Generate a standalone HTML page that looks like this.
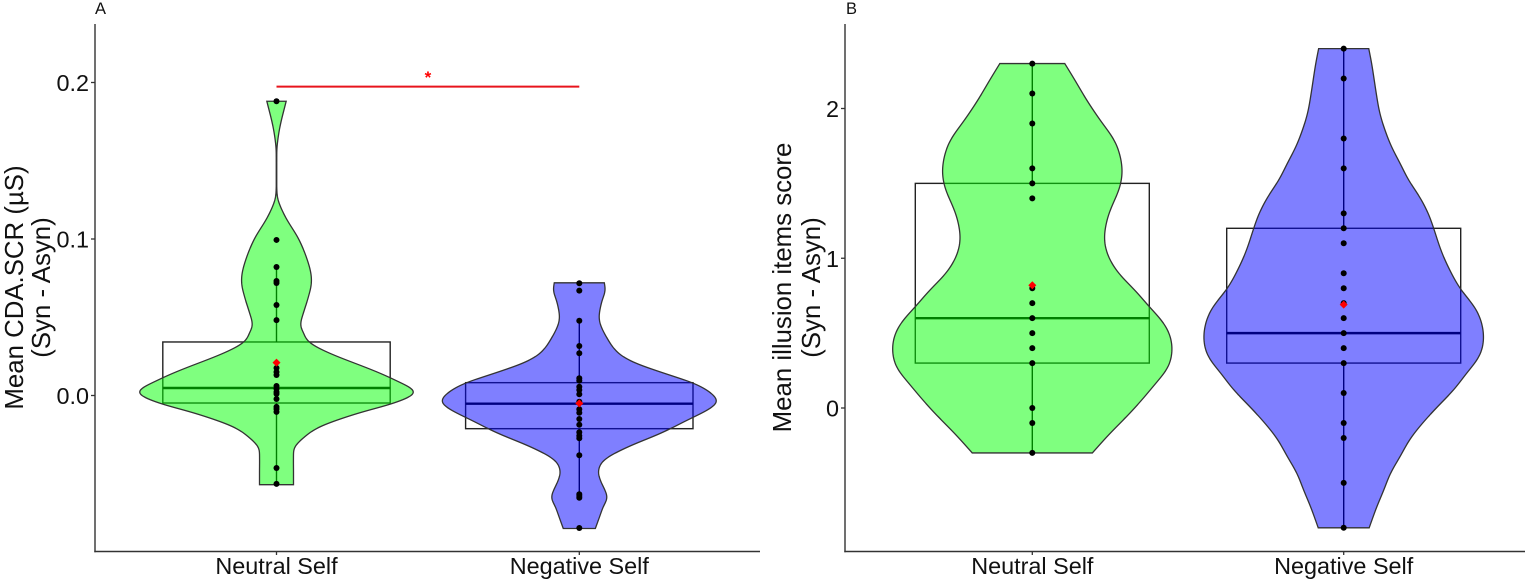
<!DOCTYPE html>
<html lang="en">
<head>
<meta charset="utf-8">
<title>Violin plots</title>
<style>
  html, body { margin: 0; padding: 0; background: #fff; }
  #figure { display: block; width: 1535px; height: 583px; font-family: "Liberation Sans", Arial, sans-serif; }
</style>
</head>
<body>
<svg id="figure" xmlns="http://www.w3.org/2000/svg" width="1535" height="583" viewBox="0 0 1535 583">
  <rect x="0" y="0" width="1535" height="583" fill="#fff"/>
  <text x="95" y="14" font-size="16.5" fill="#111">A</text>
  <text x="846" y="14" font-size="16.5" fill="#111">B</text>
  <text transform="translate(23,287.5) rotate(-90)" text-anchor="middle" font-size="25.8" fill="#111">Mean CDA.SCR (µS)</text>
  <text transform="translate(50,287.5) rotate(-90)" text-anchor="middle" font-size="25.8" fill="#111">(Syn - Asyn)</text>
  <text transform="translate(791,287.5) rotate(-90)" text-anchor="middle" font-size="25.8" fill="#111">Mean illusion items score</text>
  <text transform="translate(820,287.5) rotate(-90)" text-anchor="middle" font-size="25.8" fill="#111">(Syn - Asyn)</text>
  <g id="plot-layer"></g>
</svg>
<script>
const categories = ['Neutral Self', 'Negative Self'];
const ticksA = [0, 0.1, 0.2];
const tickLabelsA = ['0.0', '0.1', '0.2'];
const ticksB = [0, 1, 2];
const tickLabelsB = ['0', '1', '2'];

const aNeutralKdeValues = [0.188,0.172,0.159,0.150,0.133,0.125,0.114,0.099,0.082,0.072,0.061,0.055,0.045,0.040,0.034,0.027,0.016,0.010,0.002,-0.005,-0.011,-0.020,-0.027,-0.033,-0.039,-0.048,-0.057];
const aNeutralKdeDensity = [0.071,0.026,0.004,0.002,0.002,0.011,0.066,0.169,0.243,0.257,0.228,0.206,0.176,0.199,0.239,0.39,0.713,0.868,1.02,0.86,0.61,0.316,0.199,0.132,0.125,0.125,0.125];
const aNeutralPoints = [0.188,0.0994,0.0821,0.0732,0.0719,0.0578,0.0482,0.0176,0.015,0.0131,0.0061,0.0042,0.0022,0.001,-0.0022,-0.0073,-0.0086,-0.0105,-0.0463,-0.0565];
const aNeutralBox = [-0.0048, 0.0048, 0.0342];
const aNeutralWhiskers = [-0.0565, 0.0821];
const aNeutralMean = 0.021;

const aNegativeKdeValues = [0.072,0.067,0.059,0.048,0.037,0.027,0.021,0.014,0.008,0.002,-0.004,-0.009,-0.016,-0.024,-0.033,-0.041,-0.048,-0.054,-0.065,-0.071,-0.078,-0.085];
const aNegativeKdeDensity = [0.184,0.191,0.162,0.147,0.202,0.287,0.404,0.632,0.838,0.963,1.015,0.949,0.787,0.603,0.353,0.184,0.14,0.154,0.206,0.176,0.147,0.118];
const aNegativePoints = [0.0717,0.067,0.0478,0.0316,0.027,0.011,0.0095,0.0056,0.0035,0.0008,-0.004,-0.0088,-0.011,-0.015,-0.0187,-0.0235,-0.0257,-0.0273,-0.0382,-0.0631,-0.0642,-0.0653,-0.0847];
const aNegativeBox = [-0.0212, -0.0052, 0.0082];
const aNegativeWhiskers = [-0.0653, 0.0478];
const aNegativeMean = -0.005;

const bNeutralKdeValues = [2.3,2.19,2.06,1.92,1.79,1.68,1.57,1.46,1.34,1.24,1.12,1.01,0.90,0.855,0.77,0.675,0.59,0.50,0.39,0.27,0.17,0.05,-0.06,-0.17,-0.3];
const bNeutralKdeDensity = [0.232,0.304,0.386,0.486,0.586,0.629,0.643,0.621,0.564,0.529,0.514,0.543,0.614,0.661,0.75,0.836,0.921,0.979,1,0.971,0.886,0.779,0.671,0.554,0.429];
const bNeutralPoints = [2.3,2.1,1.9,1.6,1.5,1.4,0.8,0.7,0.6,0.5,0.4,0.3,0,-0.1,-0.3];
const bNeutralBox = [0.3, 0.6, 1.5];
const bNeutralWhiskers = [-0.3, 2.3];
const bNeutralMean = 0.82;

const bNegativeKdeValues = [2.4,2.3,2.19,2.08,1.97,1.86,1.74,1.64,1.52,1.41,1.30,1.20,1.075,0.97,0.80,0.675,0.57,0.45,0.34,0.23,0.12,0.01,-0.10,-0.21,-0.33,-0.43,-0.55,-0.66,-0.8];
const bNegativeKdeDensity = [0.179,0.2,0.218,0.236,0.257,0.293,0.343,0.4,0.464,0.543,0.604,0.643,0.686,0.732,0.829,0.936,0.986,1,0.968,0.875,0.786,0.671,0.564,0.471,0.4,0.336,0.286,0.236,0.182];
const bNegativePoints = [2.4,2.2,1.8,1.6,1.3,1.2,1.1,0.9,0.8,0.7,0.6,0.5,0.4,0.3,0.1,-0.1,-0.2,-0.5,-0.8];
const bNegativeBox = [0.3, 0.5, 1.2];
const bNegativeWhiskers = [-0.8, 2.4];
const bNegativeMean = 0.69;

const significanceValue = 0.1974;
const significanceLabel = '*';

const NS = 'http://www.w3.org/2000/svg';
const layer = document.getElementById('plot-layer');

function mk(parent, tag, attrs) {
  const el = document.createElementNS(NS, tag);
  for (const k in attrs) el.setAttribute(k, attrs[k]);
  parent.appendChild(el);
  return el;
}

// Resample the density outline to 1px rows, then lightly smooth it.
function outline(kdeV, kdeD, yScale, maxHalf, sigma) {
  const ys = kdeV.map(yScale);
  const ws = kdeD.map(d => d * maxHalf);
  const n = ys.length;
  const slope = i => {
    const a = Math.max(i - 1, 0), b = Math.min(i + 1, n - 1);
    return (ws[b] - ws[a]) / (ys[b] - ys[a]);
  };
  const rowY = [], rowW = [];
  const y0 = ys[0], y1 = ys[n - 1];
  const steps = Math.max(2, Math.round(y1 - y0));
  let seg = 0;
  for (let k = 0; k <= steps; k++) {
    const y = y0 + (y1 - y0) * k / steps;
    while (seg < n - 2 && y > ys[seg + 1]) seg++;
    const h = ys[seg + 1] - ys[seg];
    const t = Math.min(1, Math.max(0, (y - ys[seg]) / h));
    const t2 = t * t, t3 = t2 * t;
    const w = (2 * t3 - 3 * t2 + 1) * ws[seg] + (t3 - 2 * t2 + t) * h * slope(seg)
            + (-2 * t3 + 3 * t2) * ws[seg + 1] + (t3 - t2) * h * slope(seg + 1);
    rowY.push(y);
    rowW.push(Math.max(w, 0));
  }
  const R = Math.ceil(sigma * 3);
  const at = i => {
    if (i < 0) return 2 * rowW[0] - rowW[-i];
    if (i > steps) return 2 * rowW[steps] - rowW[2 * steps - i];
    return rowW[i];
  };
  const out = rowW.map((_, i) => {
    let sum = 0, norm = 0;
    for (let j = -R; j <= R; j++) {
      const g = Math.exp(-j * j / (2 * sigma * sigma));
      sum += g * at(Math.max(-steps, Math.min(2 * steps, i + j)));
      norm += g;
    }
    return Math.max(sum / norm, 0.25);
  });
  return { rowY: rowY, rowW: out };
}

function drawAxes(prefix, x0, x1, top, bottom, yScale, ticks, tickLabels, xCenters) {
  const g = mk(layer, 'g', {});
  
  
  const yAxis = mk(g, 'line', { x1: x0, x2: x0, y1: top, y2: bottom + 0.7, stroke: '#333', 'stroke-width': 1.4 });
  
  
  const xAxis = mk(g, 'line', { x1: x0 - 0.7, x2: x1, y1: bottom, y2: bottom, stroke: '#333', 'stroke-width': 1.4 });
  
  
  ticks.forEach((t, i) => {
    const y = yScale(t);
    const tick = mk(g, 'line', { x1: x0 - 4, x2: x0, y1: y, y2: y, stroke: '#333', 'stroke-width': 1.3 });
    
    
    const label = mk(g, 'text', { x: x0 - 6, y: y + 8.6, 'text-anchor': 'end', 'font-size': 23.4, fill: '#111' });
    label.textContent = tickLabels[i];
    
    
  });
  categories.forEach((c, i) => {
    const x = xCenters[i];
    const tick = mk(g, 'line', { x1: x, x2: x, y1: bottom, y2: bottom + 3.5, stroke: '#333', 'stroke-width': 1.3 });
    
    
    const label = mk(g, 'text', { x: x, y: bottom + 22.5, 'text-anchor': 'middle', 'font-size': 23.4, fill: '#111' });
    label.textContent = c;
    
    
  });
}

function drawViolin(name, cx, boxHalf, maxHalf, sigma, yScale, color, kdeV, kdeD, pts, box, whisk, mean) {
  const g = mk(layer, 'g', {});
  
  

  const rect = mk(g, 'rect', { x: cx - boxHalf, y: yScale(box[2]), width: boxHalf * 2, height: yScale(box[0]) - yScale(box[2]), fill: 'none', stroke: '#222', 'stroke-width': 1.4 });
  
  

  const med = mk(g, 'line', { x1: cx - boxHalf, x2: cx + boxHalf, y1: yScale(box[1]), y2: yScale(box[1]), stroke: '#000', 'stroke-width': 2.4 });
  
  

  const wHi = mk(g, 'line', { x1: cx, x2: cx, y1: yScale(whisk[1]), y2: yScale(box[2]), stroke: '#000', 'stroke-width': 1.4 });
  
  

  const wLo = mk(g, 'line', { x1: cx, x2: cx, y1: yScale(box[0]), y2: yScale(whisk[0]), stroke: '#000', 'stroke-width': 1.4 });
  
  

  const o = outline(kdeV, kdeD, yScale, maxHalf, sigma);
  let d = '';
  o.rowY.forEach((y, i) => { d += (i ? 'L' : 'M') + (cx + o.rowW[i]).toFixed(2) + ' ' + y.toFixed(2); });
  for (let i = o.rowY.length - 1; i >= 0; i--) { d += 'L' + (cx - o.rowW[i]).toFixed(2) + ' ' + o.rowY[i].toFixed(2); }
  d += 'Z';
  const shape = mk(g, 'path', { d: d, fill: color, 'fill-opacity': 0.5, stroke: '#333', 'stroke-width': 1.3, 'stroke-linejoin': 'miter' });
  
  

  pts.forEach(v => {
    const dot = mk(g, 'circle', { cx: cx, cy: yScale(v), r: 3, fill: '#000' });
    
    
  });

  const my = yScale(mean), r = 4;
  const diamond = mk(g, 'polygon', { points: [[cx, my - r], [cx + r, my], [cx, my + r], [cx - r, my]].map(p => p.join(',')).join(' '), fill: '#f00' });
  
  
}

const yA = v => 395.5 - v * 1565;
const yB = v => 408 - v * 149.75;
const xA = [276.5, 579.3];
const xB = [1032.3, 1343.7];

drawAxes('panel-a', 95, 760, 24, 551.5, yA, ticksA, tickLabelsA, xA);
drawAxes('panel-b', 845, 1525, 24, 551.5, yB, ticksB, tickLabelsB, xB);

drawViolin('panel-a-neutral-violin', xA[0], 113.7, 136, 3, yA, '#00ff00', aNeutralKdeValues, aNeutralKdeDensity, aNeutralPoints, aNeutralBox, aNeutralWhiskers, aNeutralMean);
drawViolin('panel-a-negative-violin', xA[1], 113.7, 136, 3, yA, '#0000ff', aNegativeKdeValues, aNegativeKdeDensity, aNegativePoints, aNegativeBox, aNegativeWhiskers, aNegativeMean);
drawViolin('panel-b-neutral-violin', xB[0], 117, 140, 6, yB, '#00ff00', bNeutralKdeValues, bNeutralKdeDensity, bNeutralPoints, bNeutralBox, bNeutralWhiskers, bNeutralMean);
drawViolin('panel-b-negative-violin', xB[1], 117, 140, 6, yB, '#0000ff', bNegativeKdeValues, bNegativeKdeDensity, bNegativePoints, bNegativeBox, bNegativeWhiskers, bNegativeMean);

const sigLine = mk(layer, 'line', { x1: xA[0], x2: xA[1], y1: yA(significanceValue), y2: yA(significanceValue), stroke: '#e8141c', 'stroke-width': 2 });



const sigStar = mk(layer, 'text', { x: (xA[0] + xA[1]) / 2, y: yA(significanceValue) - 3.5, 'text-anchor': 'middle', 'font-size': 17, 'font-weight': 'bold', fill: '#f00' });
sigStar.textContent = significanceLabel;


</script>
</body>
</html>
